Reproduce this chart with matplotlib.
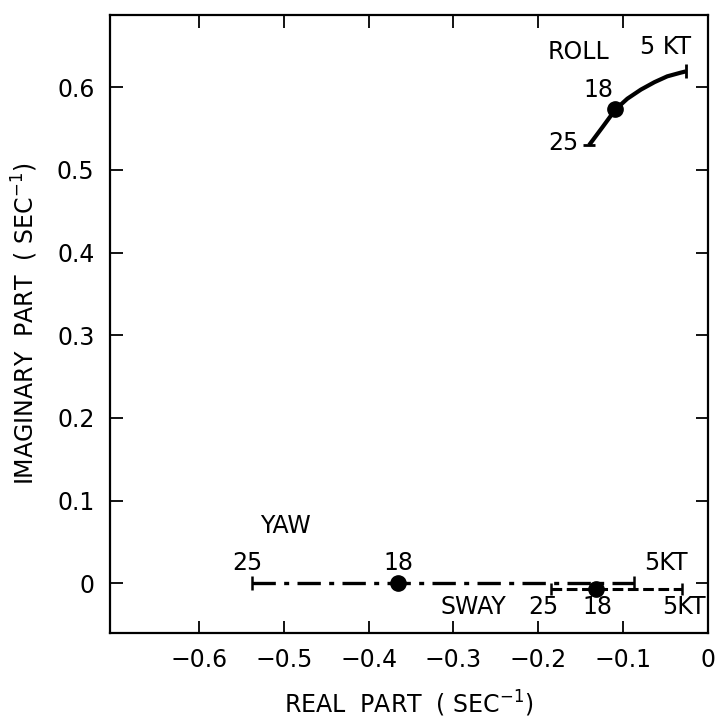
import matplotlib
matplotlib.use("Agg")
import matplotlib.pyplot as plt

# Root locus values (real, imaginary parts, 1/sec)
roll_re = [-0.140, -0.124, -0.109, -0.095, -0.079, -0.063, -0.048, -0.032, -0.026]
roll_im = [0.530, 0.552, 0.573, 0.586, 0.597, 0.606, 0.613, 0.6175, 0.619]
yaw_re = [-0.538, -0.365, -0.087]
yaw_im = [0.0, 0.0, 0.0]
sway_re = [-0.185, -0.132, -0.030]
sway_im = [-0.007, -0.007, -0.007]

xticks = [-0.6, -0.5, -0.4, -0.3, -0.2, -0.1, 0]
xticklabels = ["\u22120.6", "\u22120.5", "\u22120.4", "\u22120.3", "\u22120.2", "\u22120.1", "0"]
yticks = [0, 0.1, 0.2, 0.3, 0.4, 0.5, 0.6]
yticklabels = ["0", "0.1", "0.2", "0.3", "0.4", "0.5", "0.6"]

plt.rcParams['font.family'] = ['DejaVu Sans']

fig = plt.figure(figsize=(7.18, 7.21), dpi=100)
ax = fig.add_axes([0.153, 0.122, 0.833, 0.857])

fs = 17

# roll branch (solid)
ax.plot(roll_re, roll_im, color='black', lw=3, solid_capstyle='butt', solid_joinstyle='round')
ax.plot(roll_re[2], roll_im[2], 'o', color='black', ms=11)
ax.plot(roll_re[-1], roll_im[-1], '|', color='black', ms=10, mew=2)
ax.plot(roll_re[0], roll_im[0], '_', color='black', ms=8, mew=2)

# yaw branch (long/short dashes)
ax.plot([yaw_re[0], yaw_re[-1]], [yaw_im[0], yaw_im[-1]], color='black', lw=2.4,
        linestyle=(0, (7, 2.5, 1.5, 2.5)))
ax.plot(yaw_re[1], yaw_im[1], 'o', color='black', ms=11)
ax.plot([yaw_re[0], yaw_re[-1]], [yaw_im[0], yaw_im[-1]], '|', color='black', ms=10, mew=1.8)

# sway branch (short dashes)
ax.plot([sway_re[0], sway_re[-1]], [sway_im[0], sway_im[-1]], color='black', lw=2.2,
        linestyle=(0, (3.5, 1.5)))
ax.plot(sway_re[1], sway_im[1], 'o', color='black', ms=11)
ax.plot([sway_re[0], sway_re[-1]], [sway_im[0], sway_im[-1]], '|', color='black', ms=9, mew=1.8)

# labels
ax.text(-0.152, 0.642, "ROLL", fontsize=fs, ha='center', va='center')
ax.text(-0.050, 0.648, "5 KT", fontsize=fs, ha='center', va='center')
ax.text(-0.129, 0.596, "18", fontsize=fs, ha='center', va='center')
ax.text(-0.170, 0.533, "25", fontsize=fs, ha='center', va='center')

ax.text(-0.498, 0.070, "YAW", fontsize=fs, ha='center', va='center')
ax.text(-0.543, 0.025, "25", fontsize=fs, ha='center', va='center')
ax.text(-0.365, 0.025, "18", fontsize=fs, ha='center', va='center')
ax.text(-0.050, 0.025, "5KT", fontsize=fs, ha='center', va='center')

ax.text(-0.277, -0.029, "SWAY", fontsize=fs, ha='center', va='center')
ax.text(-0.194, -0.029, "25", fontsize=fs, ha='center', va='center')
ax.text(-0.130, -0.029, "18", fontsize=fs, ha='center', va='center')
ax.text(-0.028, -0.029, "5KT", fontsize=fs, ha='center', va='center')

ax.set_xlim(-0.705, 0)
ax.set_ylim(-0.06, 0.687)
ax.set_xticks(xticks)
ax.set_xticklabels(xticklabels, fontsize=fs)
ax.set_yticks(yticks)
ax.set_yticklabels(yticklabels, fontsize=fs)
ax.tick_params(direction='in', length=9, width=1.3, top=True, right=True, pad=11)
for s in ax.spines.values():
    s.set_linewidth(1.6)

ax.set_xlabel("REAL  PART  ( SEC$^{-1}$)", fontsize=fs, labelpad=12)
ax.set_ylabel("IMAGINARY  PART  ( SEC$^{-1}$)", fontsize=fs, labelpad=12)

fig.savefig("out.png", dpi=100)
